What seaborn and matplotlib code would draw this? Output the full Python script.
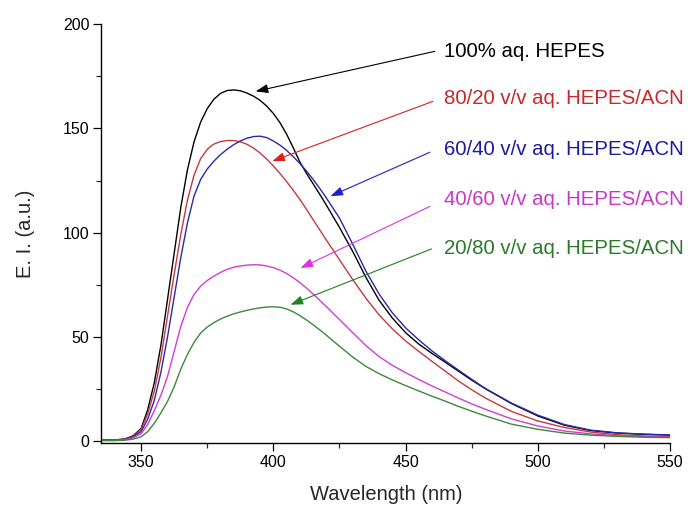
import numpy as np
import pandas as pd
import matplotlib
matplotlib.use("Agg")
import matplotlib.pyplot as plt
import seaborn as sns

wavelength = [335, 340, 344, 347,
              350, 352.5, 355, 357.5, 360, 362.5, 365, 367.5, 370, 372.5, 375, 377.5,
              380, 382.5, 385, 387.5, 390, 392.5, 395, 397.5, 400, 402.5, 405, 407.5,
              410, 412.5, 415, 417.5, 420,
              425, 430, 435, 440, 445, 450, 455, 460, 465, 470, 475, 480,
              490, 500, 510, 520, 530, 540, 550]

hepes_100 = [0.5, 0.5, 1.0, 2.5,
             6, 15, 28, 46, 68, 90, 112, 130, 143.5, 153, 159.5, 164,
             166.8, 168.2, 168.5, 168.1, 167, 165.5, 163.5, 160.7, 157.2, 152.8, 147.3, 140.8,
             134, 128.5, 123.5, 118.5, 113.3,
             102.5, 91, 78.5, 67.5, 59, 52, 46.5, 42, 37.8, 33.5, 29.2, 25.2,
             18, 12, 7.6, 5, 3.8, 3.2, 2.8]

hepes_80 = [0.5, 0.5, 0.9, 2.2,
            5.5, 13, 24, 40, 60, 80, 99, 115.5, 127.5, 135.5, 140, 142.5,
            143.7, 144.2, 144.2, 143.6, 142.4, 140.6, 138.2, 135.3, 132, 128.4, 124.5, 120.4,
            116, 111.2, 106.3, 101.4, 96.5,
            87, 77.5, 68.5, 60.5, 53.8, 48, 43, 38.2, 33.5, 28.8, 24.6, 20.7,
            14.2, 9.6, 6.5, 4.3, 3.0, 2.4, 2.1]

hepes_60 = [0.3, 0.4, 0.8, 2.0,
            4.5, 10.5, 19.5, 33, 50, 69, 88, 104.5, 117.5, 125.5, 130.5, 134.3,
            137.4, 140, 142.2, 144, 145.3, 146.1, 146.3, 145.6, 144, 142, 139.5, 136.5,
            133.2, 129.6, 125.6, 121.3, 116.7,
            107, 94.5, 81.5, 70.5, 61.5, 54.3, 48.5, 43.2, 38.5, 34, 29.6, 25.3,
            18.2, 12.4, 7.9, 5.2, 3.9, 3.3, 2.9]

hepes_40 = [0.3, 0.3, 0.6, 1.5,
            3.5, 8, 14.5, 22, 31, 43, 55, 64, 70.3, 74.3, 77, 79.1,
            80.9, 82.4, 83.4, 84, 84.4, 84.6, 84.5, 84, 83.2, 82, 80.4, 78.4,
            76, 73.4, 70.6, 67.6, 64.5,
            58.3, 52, 45.8, 40.5, 36.3, 32.8, 29.5, 26.4, 23.5, 20.6, 17.8, 15.3,
            10.6, 7.2, 4.8, 3.4, 2.6, 2.1, 1.8]

hepes_20 = [0.2, 0.2, 0.4, 0.9,
            2, 4.5, 8.5, 13.5, 19, 26, 34.5, 41.5, 47.3, 51.8, 54.7, 56.8,
            58.5, 59.9, 61, 61.9, 62.7, 63.4, 63.9, 64.3, 64.4, 64.2, 63.4, 62,
            60.2, 58.1, 55.8, 53.4, 50.8,
            45.5, 40.3, 35.8, 32.3, 29.3, 26.6, 24, 21.5, 19.1, 16.6, 14.3, 12.1,
            8.1, 5.6, 3.8, 2.8, 2.2, 1.8, 1.6]

labels = ["100% aq. HEPES",
          "80/20 v/v aq. HEPES/ACN",
          "60/40 v/v aq. HEPES/ACN",
          "40/60 v/v aq. HEPES/ACN",
          "20/80 v/v aq. HEPES/ACN"]
series = [hepes_100, hepes_80, hepes_60, hepes_40, hepes_20]

line_colors = ["#000000", "#c8383a", "#2a2aa8", "#d23cd2", "#3a8a3a"]
text_colors = ["#000000", "#c8282a", "#1c1ca0", "#c838c8", "#2a7a2a"]
arrow_colors = ["#000000", "#d82020", "#2020c8", "#e030e0", "#208020"]

# annotation positions (data coords): text anchor, arrow tail, arrow head
text_xy = [(464.6, 186.9), (464.6, 164.4), (464.6, 139.9), (464.6, 115.9), (464.6, 92.6)]
tail_xy = [(461.0, 187.0), (460.3, 163.0), (459.2, 138.6), (459.2, 112.6), (459.8, 92.2)]
head_xy = [(393.3, 167.8), (399.6, 134.3), (421.6, 117.5), (410.3, 83.0), (406.5, 65.4)]

df = pd.concat([pd.DataFrame({"Wavelength": wavelength, "EI": s, "Condition": lab})
                for s, lab in zip(series, labels)], ignore_index=True)

sns.set_theme(style="ticks")
plt.rcParams["font.family"] = ["Liberation Sans", "DejaVu Sans"]

fig = plt.figure(figsize=(6.88, 5.09), dpi=100)
ax = fig.add_axes([0.1474, 0.1291, 0.8266, 0.8232])

sns.lineplot(data=df, x="Wavelength", y="EI", hue="Condition",
             palette=dict(zip(labels, line_colors)), hue_order=labels,
             legend=False, linewidth=1.0, ax=ax, sort=False)

ax.set_xlim(335, 550)
ax.set_ylim(-1.1, 200)
ax.set_xticks([350, 400, 450, 500, 550])
ax.set_xticks([375, 425, 475, 525], minor=True)
ax.set_yticks([0, 50, 100, 150, 200])
ax.set_yticks([25, 75, 125, 175], minor=True)
ax.tick_params(which="major", direction="out", length=5.5, width=0.9,
               labelsize=11.5, colors="black", pad=3)
ax.tick_params(which="minor", direction="out", length=3.5, width=0.9)
for side in ["top", "right"]:
    ax.spines[side].set_visible(False)
for side in ["left", "bottom"]:
    ax.spines[side].set_linewidth(1.0)
    ax.spines[side].set_color("black")

ax.set_xlabel("Wavelength (nm)", fontsize=14.5, labelpad=11)
ax.set_ylabel("E. I. (a.u.)", fontsize=14.5, labelpad=20)

for lab, tc, ac, txy, t0, h0 in zip(labels, text_colors, arrow_colors, text_xy, tail_xy, head_xy):
    ax.annotate("", xy=h0, xytext=t0,
                arrowprops=dict(arrowstyle="-|>,head_length=0.5,head_width=0.18",
                                color=ac, lw=0.8, mutation_scale=15,
                                shrinkA=0, shrinkB=0),
                annotation_clip=False)
    ax.text(txy[0], txy[1], lab, color=tc, fontsize=14.7, ha="left", va="center",
            clip_on=False)

fig.savefig("out.png", dpi=100)
